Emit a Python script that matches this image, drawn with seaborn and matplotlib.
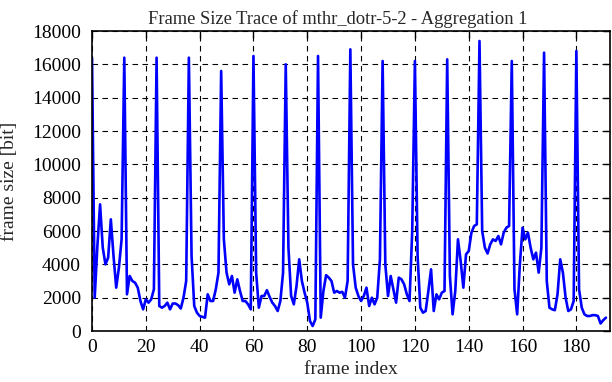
import matplotlib
matplotlib.use("Agg")
import matplotlib.pyplot as plt
import seaborn as sns
import pandas as pd

title = "Frame Size Trace of mthr_dotr-5-2 - Aggregation 1"
x_label = "frame index"
y_label = "frame size [bit]"

frame_size = [
    16400, 2000, 5100, 7600, 5000, 4000, 4400, 6700, 4500, 2600, 3800, 5500,
    16400, 2200, 3300, 3000, 2900, 2600, 1800, 1300, 1900, 1700, 1900, 2500,
    16400, 1500, 1400, 1500, 1700, 1300, 1650, 1650, 1550, 1350, 2000, 3000,
    16400, 4500, 1500, 1100, 900, 850, 800, 2200, 1800, 1800, 2500, 3500,
    15600, 5500, 3500, 2800, 3300, 2300, 3100, 2400, 1800, 1800, 1600, 1300,
    16500, 3500, 1400, 2100, 2100, 2450, 2050, 1700, 1500, 1200, 1800, 3500,
    16000, 5000, 2100, 1600, 2700, 4300, 3000, 2300, 1700, 600, 300, 700,
    16500, 800, 2400, 3350, 3200, 3000, 2300, 2400, 2300, 2350, 2000, 3000,
    16900, 4000, 2600, 2100, 1800, 2100, 2600, 1500, 2000, 1600, 2000, 4300,
    16200, 4000, 2100, 3300, 2500, 1700, 3200, 3100, 2800, 2200, 1800, 6000,
    16200, 4500, 1400, 1100, 1200, 2400, 3700, 1200, 2200, 1900, 2300, 2400,
    16300, 3300, 1000, 2400, 5500, 4200, 2600, 4600, 4800, 5900, 6300, 6400,
    17400, 6000, 5000, 4650, 5200, 5500, 5400, 5700, 5200, 5900, 6200, 6300,
    16200, 2500, 1000, 4000, 6200, 5500, 5900, 5000, 4300, 4700, 3500, 5000,
    16700, 3000, 1400, 1300, 1250, 2200, 4300, 3500, 2000, 1200, 1300, 1800,
    16800, 2500, 1400, 1000, 900, 900, 950, 950, 900, 450, 650, 800,
]
frame_index = list(range(len(frame_size)))

x_ticks = [0, 20, 40, 60, 80, 100, 120, 140, 160, 180]
y_ticks = [0, 2000, 4000, 6000, 8000, 10000, 12000, 14000, 16000, 18000]

df = pd.DataFrame({"frame index": frame_index, "frame size": frame_size})

sns.set_style("white")
plt.rcParams["font.family"] = ["Liberation Serif", "DejaVu Serif"]

fig = plt.figure(figsize=(6.12, 3.82), dpi=100)
ax = fig.add_axes([92 / 612, 1 - 331 / 382, (610 - 92) / 612, (331 - 31) / 382])

sns.lineplot(data=df, x="frame index", y="frame size", ax=ax,
             color="#0000ff", linewidth=1.9, zorder=3)

ax.set_xlim(0, 192.5)
ax.set_ylim(0, 18000)
ax.set_xticks(x_ticks)
ax.set_yticks(y_ticks)
ax.set_xticklabels([str(v) for v in x_ticks], fontsize=14)
ax.set_yticklabels([str(v) for v in y_ticks], fontsize=14)

ax.grid(True, color="black", linestyle=(0, (5, 4)), linewidth=0.8, zorder=1)
ax.tick_params(direction="in", length=5, width=1, top=True, right=True,
               colors="black")
ax.tick_params(axis="y", pad=8)
ax.tick_params(axis="x", pad=6)
for s in ax.spines.values():
    s.set_color("black")
    s.set_linewidth(1.2)
    s.set_zorder(4)

ax.set_title(title, fontsize=13.3, pad=5, x=0.475)
ax.set_xlabel(x_label, fontsize=14, labelpad=3)
ax.set_ylabel(y_label, fontsize=14, labelpad=10)

fig.savefig("out.png", dpi=100)
